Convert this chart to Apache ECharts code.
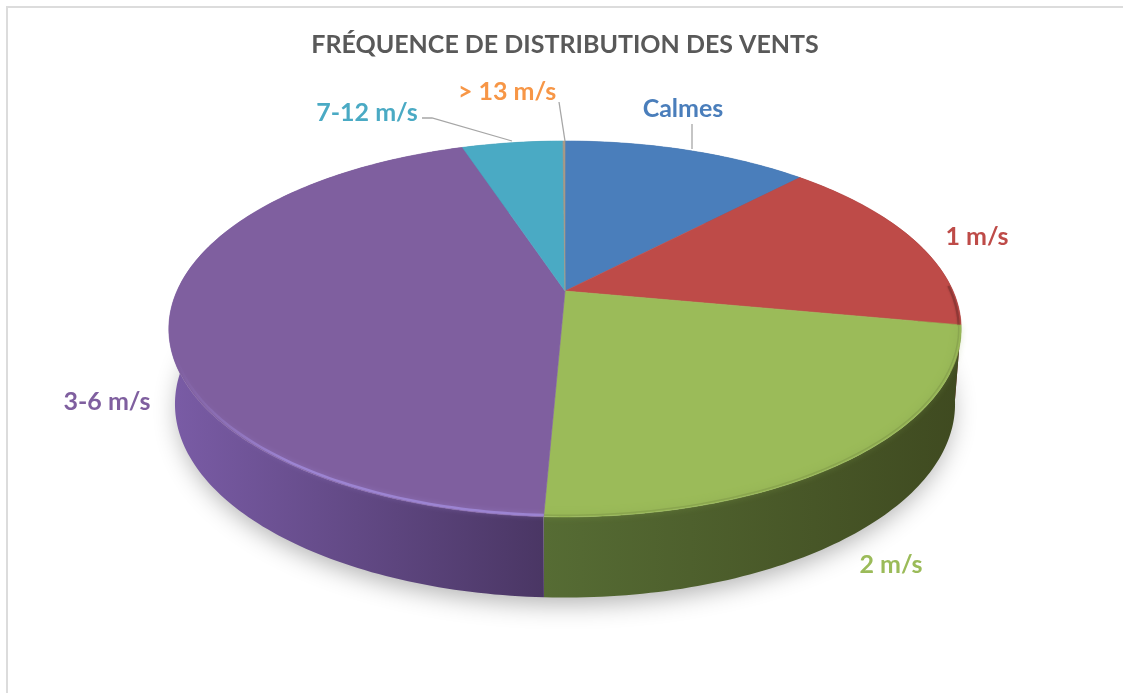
<!DOCTYPE html>
<html>
<head>
<meta charset="utf-8">
<title>Fréquence de distribution des vents</title>
<script src="https://cdn.jsdelivr.net/npm/echarts@6/dist/echarts.min.js"></script>
<style>
html, body { margin: 0; padding: 0; background: #fff; overflow: hidden; }
#chart { width: 1123px; height: 693px; }
</style>
</head>
<body>
<div id="chart"></div>
<script>
const categories = ["Calmes", "1 m/s", "2 m/s", "3-6 m/s", "7-12 m/s", "> 13 m/s"]
const shares = [12.2, 15.7, 22.8, 44.2, 5.0, 0.1]

const faceColors = ["#4a7ebb", "#be4b48", "#9bbb59", "#7f5f9f", "#4aaac4", "#a89a88"]
const labelColors = ["#4a7ebb", "#be4b48", "#9bbb59", "#7f5f9f", "#4aaac4", "#f79646"]
// side gradient, left to right
const sideStops = [
	["#3d5f8c", "#3d5f8c"],
	["#7e2f2d", "#7a2a28"],
	["#566c34", "#3f4a20"],
	["#7a5ca6", "#4a3664"],
	["#2f7f94", "#2f7f94"],
	["#b56a2c", "#b56a2c"],
]
const rimColors = [null, "#8f3836", "#8aa64f", "#9c84d2", null, null]

// label centre and leader line, in page pixels
const labelPos = [[683, 109], [977, 237], [891, 565], [107, 402], [367, 113], [507, 92]]
const leaders = [
	[[692, 124], [692, 149]],
	null,
	null,
	null,
	[[422, 118], [432, 118], [512, 141]],
	[[559, 102], [565, 141]],
]

// the disc is a circle seen in perspective: w is the depth divisor
const topDisc = { cx: 565, cy: 291, a: 388, b: 180.3 }
const bottomDisc = { cx: 565, cy: 365, a: 382, b: 185.6 }
const depth = 0.202

function project(disc, deg, r) {
	const t = (deg * Math.PI) / 180
	const u = Math.sin(t) * r
	const v = Math.cos(t) * r
	const w = 1 + depth * v
	return [disc.cx + (disc.a * u) / w, disc.cy - (disc.b * v) / w]
}

function arc(disc, from, to, r) {
	const pts = []
	const n = Math.max(2, Math.ceil(Math.abs(to - from)))
	for (let i = 0; i <= n; i++) {
		pts.push(project(disc, from + ((to - from) * i) / n, r))
	}
	return pts
}

const total = shares.reduce((a, b) => a + b, 0)
function sliceRange(idx) {
	let sum = 0
	for (let i = 0; i < idx; i++) sum += shares[i]
	return [(sum / total) * 360, ((sum + shares[idx]) / total) * 360]
}

const myChart = echarts.init(document.getElementById("chart"))

const option = {
	animation: false,
	backgroundColor: "#fff",
	title: {
		text: "FRÉQUENCE DE DISTRIBUTION DES VENTS",
		left: 560,
		top: 27,
		textAlign: "center",
		textStyle: { fontFamily: "Lato", fontWeight: "bold", fontSize: 25, color: "#595959" },
	},
	graphic: [
		{
			type: "polyline",
			silent: true,
			shape: { points: [[7, 693], [7, 7], [1123, 7]] },
			style: { fill: null, stroke: "#dcdcdc", lineWidth: 2 },
		},
	],
	series: [
		{
			// soft shadow under the disc
			type: "custom",
			coordinateSystem: "none",
			z: 1,
			silent: true,
			data: [total],
			renderItem() {
				return {
					type: "ellipse",
					shape: { cx: 565, cy: 404, rx: 387, ry: 193 },
					style: {
						fill: "#fff",
						shadowColor: "rgba(0,0,0,0.3)",
						shadowBlur: 24,
						shadowOffsetY: 7,
					},
				}
			},
		},
		{
			// side wall
			type: "custom",
			coordinateSystem: "none",
			z: 2,
			silent: true,
			data: shares,
			renderItem(params) {
				const [from, to] = sliceRange(params.dataIndex)
				const pts = arc(topDisc, from, to, 1).concat(arc(bottomDisc, to, from, 1))
				const xs = pts.map((p) => p[0])
				const x0 = Math.min(...xs)
				const x1 = Math.max(...xs)
				const stops = sideStops[params.dataIndex]
				return {
					type: "polygon",
					shape: { points: pts },
					style: {
						fill: new echarts.graphic.LinearGradient(x0, 0, x1, 0, [
							{ offset: 0, color: stops[0] },
							{ offset: 1, color: stops[1] },
						], true),
					},
				}
			},
		},
		{
			// top face
			type: "custom",
			coordinateSystem: "none",
			z: 3,
			silent: true,
			data: shares,
			renderItem(params) {
				const [from, to] = sliceRange(params.dataIndex)
				const color = faceColors[params.dataIndex]
				return {
					type: "polygon",
					shape: { points: [[topDisc.cx, topDisc.cy]].concat(arc(topDisc, from, to, 1)) },
					style: { fill: color, stroke: color, lineWidth: 0.6 },
				}
			},
		},
		{
			// bevel along the rim
			type: "custom",
			coordinateSystem: "none",
			z: 4,
			silent: true,
			data: shares,
			renderItem(params) {
				const color = rimColors[params.dataIndex]
				if (!color) return null
				let [from, to] = sliceRange(params.dataIndex)
				let stroke = color
				let width = 2
				let blur = 5
				if (params.dataIndex === 1) {
					from = to - 12
					blur = 2
				}
				if (params.dataIndex === 2) {
					width = 1.5
					blur = 7
				}
				if (params.dataIndex === 3) {
					// fades out towards the left edge
					to = 268
					width = 2.5
					blur = 5
					stroke = new echarts.graphic.LinearGradient(175, 0, 290, 0, [
						{ offset: 0, color: "rgba(156,132,210,0)" },
						{ offset: 1, color: color },
					], true)
				}
				return {
					type: "polyline",
					shape: { points: arc(topDisc, from, to, 0.994) },
					style: {
						fill: null,
						stroke,
						lineWidth: width,
						shadowColor: params.dataIndex === 3 ? "rgba(156,132,210,0.5)" : color,
						shadowBlur: blur,
					},
				}
			},
		},
		{
			// labels and leader lines
			type: "custom",
			coordinateSystem: "none",
			z: 5,
			silent: true,
			data: categories.map((c, i) => i),
			renderItem(params) {
				const i = params.dataIndex
				const children = [
					{
						type: "text",
						style: {
							x: labelPos[i][0],
							y: labelPos[i][1],
							text: categories[i],
							align: "center",
							verticalAlign: "middle",
							fontFamily: "Lato",
							fontWeight: "bold",
							fontSize: 25,
							fill: labelColors[i],
						},
					},
				]
				if (leaders[i]) {
					children.push({
						type: "polyline",
						shape: { points: leaders[i] },
						style: { fill: null, stroke: "#a6a6a6", lineWidth: 1.3 },
					})
				}
				return { type: "group", children }
			},
		},
	],
}

myChart.setOption(option)

window.addEventListener("resize", function () {
	myChart.resize()
})
</script>
</body>
</html>
